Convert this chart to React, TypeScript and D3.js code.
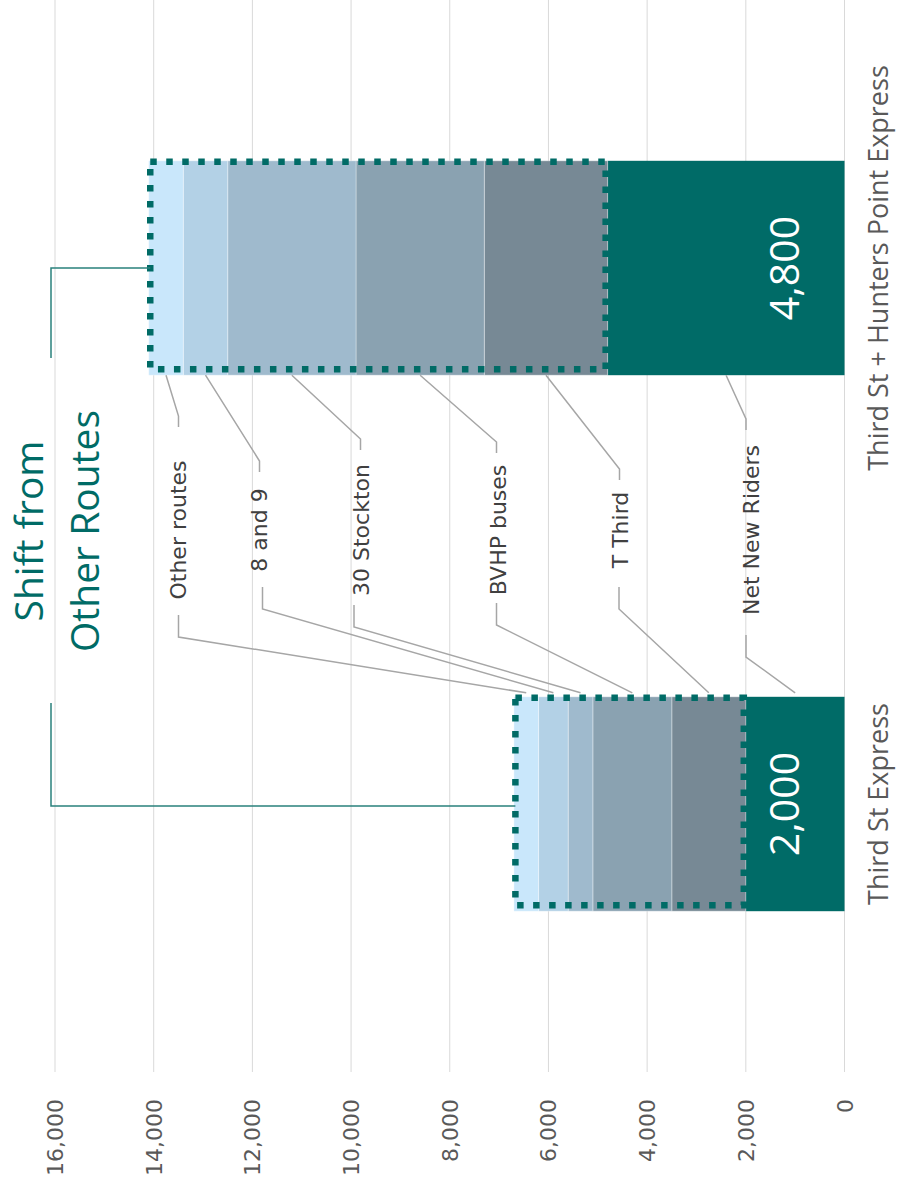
import React from 'react';
import * as d3 from 'd3';

// Canvas
const W = 897;
const H = 1193;

// Categories and stacked series (riders)
const categories = ['Third St Express', 'Third St + Hunters Point Express'];
const seriesNames = ['Net New Riders', 'T Third', 'BVHP buses', '30 Stockton', '8 and 9', 'Other routes'];
const netNewRiders = [2000, 4800];
const tThird = [1500, 2500];
const bvhpBuses = [1600, 2600];
const stockton30 = [500, 2600];
const routes8and9 = [600, 900];
const otherRoutes = [500, 700];
const seriesValues = [netNewRiders, tThird, bvhpBuses, stockton30, routes8and9, otherRoutes];
const seriesColors = ['#006b67', '#778995', '#8aa2b1', '#9fbacd', '#b3d1e6', '#c9e7fb'];

const valueTicks = [0, 2000, 4000, 6000, 8000, 10000, 12000, 14000, 16000];

// Callout label placement (pixel layout for the annotation column)
const labelLayout = [
  { name: 'Other routes', x: 178, topX: 178.5, topY: 427, botX: 178.5, botY: 615 },
  { name: '8 and 9', x: 259, topX: 259.5, topY: 472, botX: 262.5, botY: 587 },
  { name: '30 Stockton', x: 361, topX: 360.5, topY: 450, botX: 354, botY: 605 },
  { name: 'BVHP buses', x: 497.5, topX: 496.5, topY: 453, botX: 496.5, botY: 603 },
  { name: 'T Third', x: 620, topX: 619.5, topY: 480, botX: 619, botY: 587 },
  { name: 'Net New Riders', x: 751, topX: 746, topY: 430, botX: 746, botY: 635 },
];

const TEAL = '#006b66';
const GRID = '#d9d9d9';
const PLOT_END = 1072;

export default function App() {
  const x = d3.scaleLinear().domain([0, 16000]).range([844.5, 55]);
  const y = d3
    .scaleBand<string>()
    .domain(categories)
    .range([PLOT_END, 0])
    .paddingInner(0.6)
    .paddingOuter(0.3);
  const bw = y.bandwidth();

  const rows = categories.map((c, i) => {
    const r: Record<string, number | string> = { category: c };
    seriesNames.forEach((s, k) => (r[s] = seriesValues[k][i]));
    return r;
  });
  const stacked = d3.stack<any>().keys(seriesNames)(rows);

  const segMid = (seriesIdx: number, catIdx: number) => {
    const [a, b] = stacked[seriesIdx][catIdx];
    return x((a + b) / 2);
  };

  const catA = categories[0];
  const catB = categories[1];
  const barATop = y(catA)!;
  const barBBottom = y(catB)! + bw;

  const shiftRect = (i: number) => {
    const c = categories[i];
    const total = stacked[stacked.length - 1][i][1];
    const x0 = x(total) + 1.5;
    const x1 = x(netNewRiders[i]) - 2;
    const y0 = y(c)! + 1;
    const y1 = y(c)! + bw - 6;
    return { x0, x1, y0, y1 };
  };

  const bracketX = 51;
  const rA = shiftRect(0);
  const rB = shiftRect(1);
  const cA = y(catA)! + bw / 2;
  const cB = y(catB)! + bw / 2;

  const labelFont = "'DejaVu Sans', sans-serif";
  const headFont = "'Open Sans', sans-serif";

  return (
    <svg
      width={W}
      height={H}
      viewBox={`0 0 ${W} ${H}`}
      style={{ position: 'absolute', left: 0, top: 0, background: '#fff' }}
    >
      <rect x={0} y={0} width={W} height={H} fill="#fff" />

      {/* value gridlines */}
      {valueTicks.map((t) => (
        <line key={t} x1={x(t)} x2={x(t)} y1={0} y2={PLOT_END} stroke={GRID} strokeWidth={1} />
      ))}

      {/* value tick labels */}
      {valueTicks.map((t) => (
        <text
          key={'t' + t}
          transform={`translate(${x(t)},1099) rotate(-90)`}
          y={8}
          textAnchor="end"
          fontFamily={labelFont}
          fontSize={22}
          fill="#595959"
        >
          {d3.format(',')(t)}
        </text>
      ))}

      {/* stacked bars */}
      {stacked.map((layer, k) => (
        <g key={layer.key}>
          {layer.map((d, i) => (
            <rect
              key={i}
              x={x(d[1])}
              width={x(d[0]) - x(d[1])}
              y={y(categories[i])!}
              height={bw}
              fill={seriesColors[k]}
              stroke={k === 0 ? 'none' : 'rgba(255,255,255,0.35)'}
              strokeWidth={1}
            />
          ))}
        </g>
      ))}

      {/* dotted outline around the shifted riders */}
      {[rA, rB].map((r, i) => (
        <rect
          key={'o' + i}
          x={r.x0}
          y={r.y0}
          width={r.x1 - r.x0}
          height={r.y1 - r.y0}
          fill="none"
          stroke={TEAL}
          strokeWidth={6.5}
          strokeDasharray="6.5 9.5"
        />
      ))}

      {/* value labels for net new riders */}
      {categories.map((c, i) => (
        <text
          key={'v' + i}
          transform={`translate(784,${y(c)! + bw / 2}) rotate(-90)`}
          y={14.5}
          textAnchor="middle"
          fontFamily={headFont}
          fontSize={41}
          fill="#ffffff"
        >
          {d3.format(',')(netNewRiders[i])}
        </text>
      ))}

      {/* leader lines from labels to segments */}
      {labelLayout.map((l) => {
        const k = seriesNames.indexOf(l.name);
        const up = `M${l.topX},${l.topY}V${l.topY - 11}L${segMid(k, 1)},${barBBottom}`;
        const down = `M${l.botX},${l.botY}V${l.botY + 22}L${segMid(k, 0)},${barATop - 4}`;
        return (
          <g key={'l' + l.name} fill="none" stroke="#a6a6a6" strokeWidth={1.5}>
            <path d={up} />
            <path d={down} />
          </g>
        );
      })}

      {/* series labels */}
      {labelLayout.map((l) => (
        <text
          key={'n' + l.name}
          transform={`translate(${l.x},530) rotate(-90)`}
          y={8}
          textAnchor="middle"
          fontFamily={labelFont}
          fontSize={22}
          fill="#404040"
        >
          {l.name}
        </text>
      ))}

      {/* brackets tying the title to the shifted riders */}
      <path
        d={`M${rB.x0},${cB}H${bracketX}V358`}
        fill="none"
        stroke="#2a817c"
        strokeWidth={1.5}
      />
      <path
        d={`M${bracketX},703V${cA + 2}H${rA.x0}`}
        fill="none"
        stroke="#2a817c"
        strokeWidth={1.5}
      />

      {/* title */}
      <g fontFamily={headFont} fontSize={39} fill={TEAL}>
        <text transform="translate(43,531) rotate(-90)" textAnchor="middle">
          Shift from
        </text>
        <text transform="translate(99,531) rotate(-90)" textAnchor="middle">
          Other Routes
        </text>
      </g>

      {/* category labels */}
      {categories.map((c) => (
        <text
          key={'c' + c}
          transform={`translate(888,${y(c)! + bw / 2}) rotate(-90)`}
          textAnchor="middle"
          fontFamily={headFont}
          fontSize={27}
          fill="#595959"
        >
          {c}
        </text>
      ))}
    </svg>
  );
}
